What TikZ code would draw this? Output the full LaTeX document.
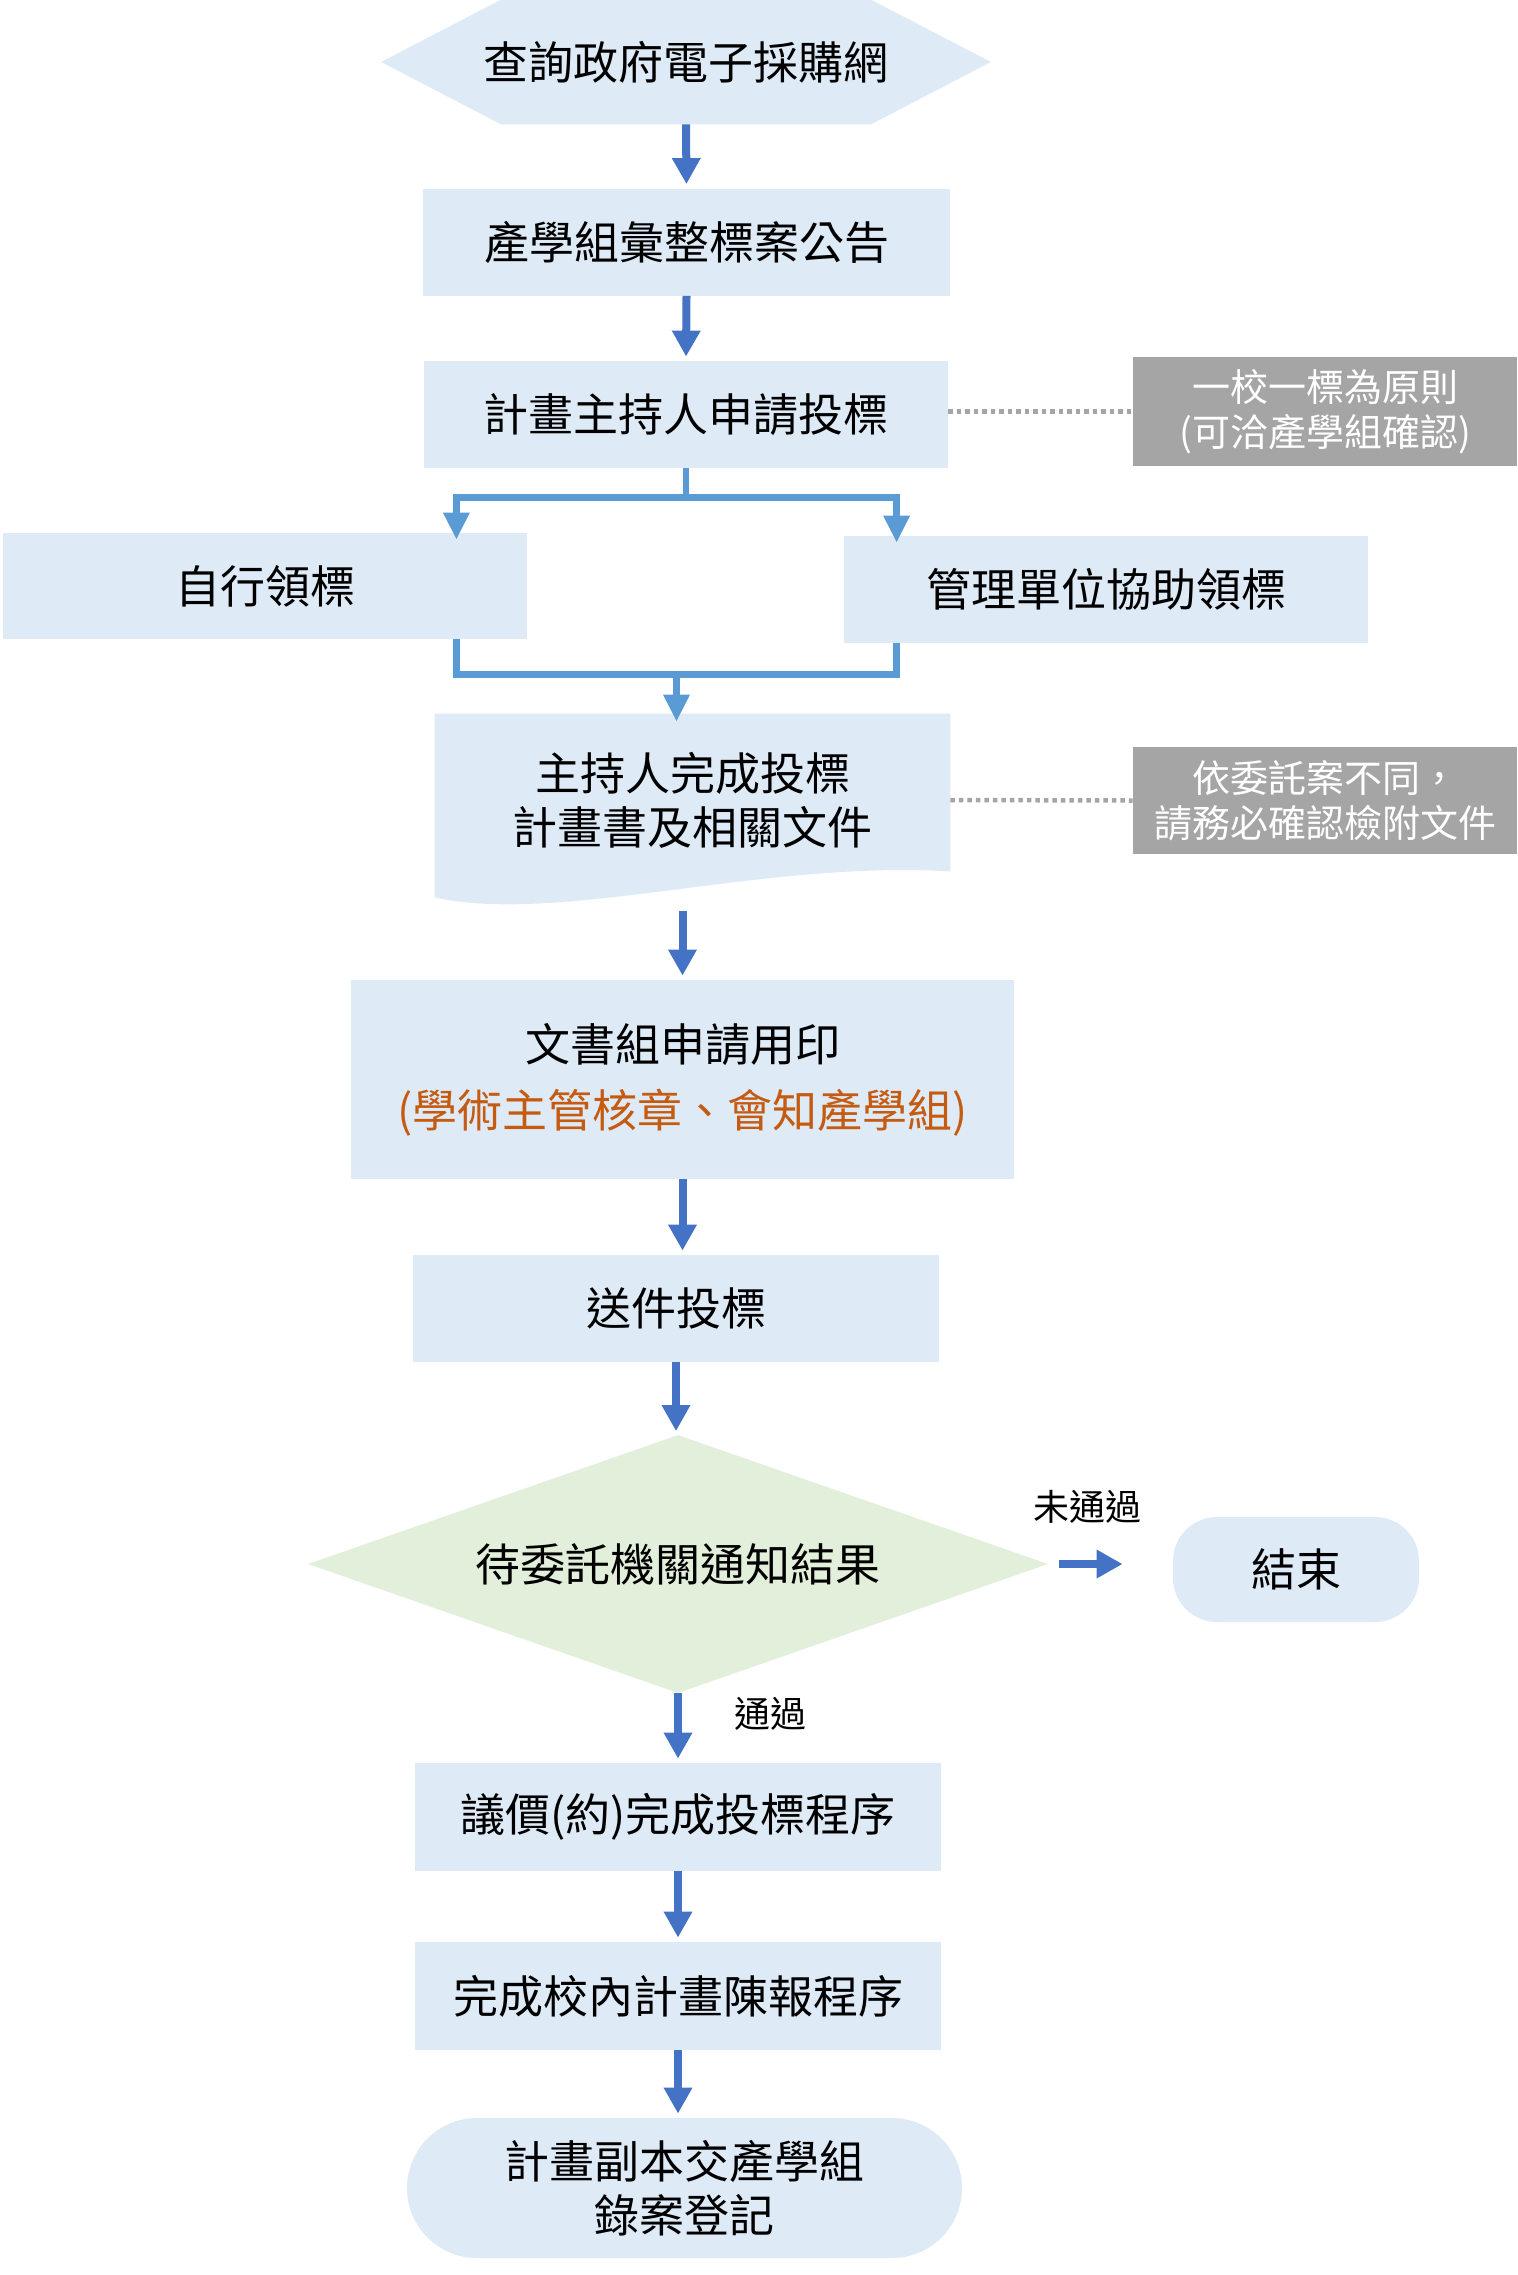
\documentclass[tikz,border=0pt]{standalone}
\usepackage{fontspec}
\usepackage{xcolor}
\usepackage{tikz}
\newfontfamily\tcfont{Noto Sans CJK TC}
\definecolor{panel}{HTML}{DEEAF6}
\definecolor{flowblue}{HTML}{4472C4}
\definecolor{branchblue}{HTML}{5B9BD5}
\definecolor{notegray}{HTML}{A5A5A5}
\definecolor{decide}{HTML}{E2EFDA}
\definecolor{remark}{HTML}{C55A11}
\usetikzlibrary{shapes.geometric, arrows.meta, positioning, calc, backgrounds}

\begin{document}
\begin{tikzpicture}[x=0.5pt, y=-0.5pt,
    steptext/.style={inner sep=0pt, align=center, font=\tcfont\fontsize{22.5}{27}\selectfont},
    stepbox/.style={steptext, fill=panel},
    notebox/.style={fill=notegray, text=white, inner sep=0pt, align=center, minimum width=192pt, font=\tcfont\fontsize{19}{22.5}\selectfont},
    tag/.style={inner sep=0pt, text=black, font=\tcfont\fontsize{18}{22}\selectfont},
    flow/.style={-{Triangle[length=13pt, width=13.5pt]}, line width=4pt, flowblue, shorten >=2pt},
    branch/.style={line width=3.25pt, branchblue},
    branchtip/.style={-{Triangle[length=13.5pt, width=12.5pt]}, shorten >=-3.5pt},
    hintline/.style={notegray, line width=2.25pt, dash pattern=on 2.25pt off 2pt}
]
    \useasboundingbox (0,0) rectangle (1518,2275);

    % Start
    \node[steptext, minimum width=304.5pt, minimum height=62pt] (search) at (686,62) {查詢政府電子採購網};

    % Announcement and application
    \node[stepbox, minimum width=263.5pt, minimum height=53.5pt] (collect) at (686.5,242) {產學組彙整標案公告};
    \node[stepbox, minimum width=262pt, minimum height=53.5pt] (apply) at (686,414.5) {計畫主持人申請投標};
    \node[notebox, minimum height=54.5pt] (rule) at (1325,411.5) {一校一標為原則\\(可洽產學組確認)};

    % Two ways to get the documents
    \node[stepbox, minimum width=262pt, minimum height=53pt] (self) at (265,586) {自行領標};
    \node[stepbox, minimum width=262pt, minimum height=53.5pt] (assist) at (1106,589.5) {管理單位協助領標};

    % Bid documents
    \node[steptext, minimum width=257.5pt, minimum height=86pt] (doc) at (692.5,800) {主持人完成投標\\計畫書及相關文件};
    \node[notebox, minimum height=53.5pt] (docnote) at (1325,800.5) {依委託案不同，\\請務必確認檢附文件};

    % Seal and submit
    \node[stepbox, minimum width=331.5pt, minimum height=99.5pt] (seal) at (682.5,1079.5) {文書組申請用印\\[6pt]\textcolor{remark}{(學術主管核章、會知產學組)}};
    \node[stepbox, minimum width=263pt, minimum height=53.5pt] (submit) at (676,1308.5) {送件投標};

    % Decision
    \node[steptext, minimum width=369.5pt, minimum height=128.5pt] (wait) at (678,1564) {待委託機關通知結果};
    \node[stepbox, rounded corners=22pt, minimum width=123pt, minimum height=52.5pt] (finish) at (1296,1569.5) {結束};

    % After passing
    \node[stepbox, minimum width=263pt, minimum height=54pt] (nego) at (678,1817) {議價(約)完成投標程序};
    \node[stepbox, minimum width=263pt, minimum height=54pt] (report) at (678,1996) {完成校內計畫陳報程序};
    \node[stepbox, rounded corners=35pt, minimum width=277.5pt, minimum height=70pt] (record) at (684.5,2188) {計畫副本交產學組\\錄案登記};

    % Shapes behind the text
    \begin{scope}[on background layer]
        \fill[panel] (search.west) -- ([xshift=60pt]search.north west) -- ([xshift=-60pt]search.north east)
            -- (search.east) -- ([xshift=-60pt]search.south east) -- ([xshift=60pt]search.south west) -- cycle;
        \fill[panel] (doc.north west) -- (doc.north east) -- ([yshift=7.5pt]doc.south east)
            .. controls (760,860) and (560,925) .. ([yshift=-5.5pt]doc.south west) -- cycle;
        \fill[decide] (wait.north) -- (wait.east) -- (wait.south) -- (wait.west) -- cycle;
    \end{scope}

    % Arrows
    \draw[flow] (search.south) -- (collect.north);
    \draw[flow] (collect.south) -- (apply.north);

    \draw[branch] (apply.south) -- ++(0,29) coordinate (fork);
    \draw[branch, branchtip] (fork) -| ([xshift=-35.5pt]self.north east);
    \draw[branch, branchtip] (fork) -| ([xshift=26.5pt]assist.north west);

    \draw[branch] ([xshift=-35.5pt]self.south east) -- ++(0,35) coordinate (joinl)
        -| ([xshift=26.5pt]assist.south west) coordinate (joinr);
    \coordinate (merge) at ($(joinl)!0.5!(joinr |- joinl)$);
    \draw[branch, branchtip, shorten >=-4pt] (merge) -- (merge |- doc.north);

    \draw[hintline] (apply.east |- rule.west) -- (rule.west);
    \draw[hintline] (doc.east) -- (docnote.west);

    \draw[flow, shorten <=12.5pt] (seal.north |- doc.south) -- (seal.north);
    \draw[flow] (seal.south) -- (seal.south |- submit.north);
    \draw[flow] (submit.south) -- (submit.south |- wait.north);
    \draw[flow, shorten <=5.5pt, shorten >=25pt] (wait.east) -- node[tag, pos=0.32, above=18.5pt] (faillabel) {未通過} (wait.east -| finish.west);
    \draw[flow] (wait.south) -- node[tag, pos=0.3, right=26pt] (passlabel) {通過} (wait.south |- nego.north);
    \draw[flow] (nego.south) -- (nego.south |- report.north);
    \draw[flow] (report.south) -- (report.south |- record.north);
\end{tikzpicture}
\end{document}
